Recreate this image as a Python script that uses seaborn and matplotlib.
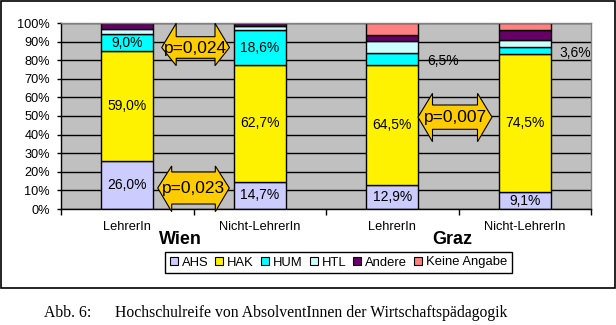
import matplotlib
matplotlib.use("Agg")
import matplotlib.pyplot as plt
import matplotlib.transforms as mtransforms
from matplotlib.patches import Polygon, Rectangle
import numpy as np
import pandas as pd
import seaborn as sns

# ---------------- data ----------------
groups = ["Wien", "Wien", "Graz", "Graz"]
categories = ["Wien LehrerIn", "Wien Nicht-LehrerIn", "Graz LehrerIn", "Graz Nicht-LehrerIn"]
cat_labels = ["LehrerIn", "Nicht-LehrerIn", "LehrerIn", "Nicht-LehrerIn"]
schools = ["AHS", "HAK", "HUM", "HTL", "Andere", "Keine Angabe"]
ahs = [26.0, 14.7, 12.9, 9.1]
hak = [59.0, 62.7, 64.5, 74.5]
hum = [9.0, 18.6, 6.5, 3.6]
htl = [2.7, 2.6, 6.5, 3.6]
andere = [3.3, 1.4, 3.1, 5.5]
keine = [0.0, 0.0, 6.5, 3.7]
labelled = ["AHS", "HAK", "HUM"]
outside_label = {(2, "HUM"), (3, "HUM")}
p_values = ["p=0,024", "p=0,023", "p=0,007"]
yticks = [0, 10, 20, 30, 40, 50, 60, 70, 80, 90, 100]

colors = {"AHS": "#CCCCFF", "HAK": "#FFF200", "HUM": "#00FFFF",
          "HTL": "#CCFFFF", "Andere": "#660066", "Keine Angabe": "#FF8080"}

values = {"AHS": ahs, "HAK": hak, "HUM": hum, "HTL": htl,
          "Andere": andere, "Keine Angabe": keine}

W, H = 616, 325
plt.rcParams["font.family"] = ["Liberation Sans", "DejaVu Sans"]
fig = plt.figure(figsize=(W / 100, H / 100), dpi=100)
fig.patch.set_facecolor("white")
ax = fig.add_axes([61 / W, 1 - 209 / H, (591 - 61) / W, (209 - 23) / H])
ax.set_facecolor("#C0C0C0")

bottom = np.zeros(len(categories))
for s in schools:
    df = pd.DataFrame({"cat": categories, "val": values[s]})
    sns.barplot(data=df, x="cat", y="val", order=categories, color=colors[s],
                saturation=1, width=0.39, bottom=bottom, edgecolor="black",
                linewidth=1.0, errorbar=None, ax=ax, zorder=2)
    if s in labelled:
        for i, v in enumerate(values[s]):
            txt = f"{v:.1f}%".replace(".", ",")
            yc = bottom[i] + v / 2
            if (i, s) in outside_label:
                ax.text(i + 0.38, yc - 1.3, txt, ha="center", va="center",
                        fontsize=10, zorder=5)
            else:
                ax.text(i, yc, txt, ha="center", va="center", fontsize=10, zorder=5)
    bottom = bottom + np.array(values[s])

ax.set_xlim(-0.5, 3.5)
ax.set_ylim(0, 100)
ax.set_yticks(yticks)
ax.set_yticklabels([f"{t}%" for t in yticks], fontsize=9.2)
ax.yaxis.grid(True, color="black", linewidth=1.0)
ax.set_axisbelow(True)
ax.set_xticks([-0.5, 0.5, 1.5, 2.5, 3.5])
ax.set_xticklabels([])
ax.set_xticks([0, 1, 2, 3], minor=True)
ax.set_xticklabels(cat_labels, minor=True, fontsize=9.3)
ax.tick_params(axis="x", which="minor", length=0, pad=9)
ax.tick_params(axis="x", which="major", length=4.5, width=1, color="black", direction="out")
ax.tick_params(axis="y", length=3, width=1, pad=5, color="black", direction="out")
ax.set_xlabel("")
ax.set_ylabel("")
for side in ["left", "bottom"]:
    ax.spines[side].set_color("black")
    ax.spines[side].set_linewidth(1.0)
for side in ["top", "right"]:
    ax.spines[side].set_color("#808080")
    ax.spines[side].set_linewidth(1.0)

# pixel (top-left origin) -> figure transform
pix = mtransforms.Affine2D().scale(1 / W, -1 / H).translate(0, 1) + fig.transFigure


def darrow(x0, x1, hb0, hb1, by0, by1, head, label):
    pts = [(x0, (by0 + by1) / 2), (x0 + head, hb0), (x0 + head, by0),
           (x1 - head, by0), (x1 - head, hb0), (x1, (by0 + by1) / 2),
           (x1 - head, hb1), (x1 - head, by1), (x0 + head, by1),
           (x0 + head, hb1)]
    fig.add_artist(Polygon(pts, closed=True, facecolor="#FFCC00", edgecolor="black",
                           linewidth=0.8, transform=pix, zorder=6))
    fig.text((x0 + x1) / 2, (by0 + by1) / 2 + 0.5, label, transform=pix,
             ha="center", va="center", fontsize=12.5, zorder=7)


darrow(161.7, 229.5, 23.3, 65.7, 36.7, 58.3, 14.5, p_values[0])
darrow(157.7, 229.3, 166.0, 211.7, 172.0, 204.0, 14.0, p_values[1])
darrow(418.0, 492.0, 93.3, 141.7, 105.0, 129.3, 14.5, p_values[2])

# group labels
fig.text(180, 240, "Wien", transform=pix, ha="center", va="center",
         fontsize=13, fontweight="bold")
fig.text(452, 240, "Graz", transform=pix, ha="center", va="center",
         fontsize=13, fontweight="bold")

# legend
handles = [Rectangle((0, 0), 1, 1, facecolor=colors[s], edgecolor="black", linewidth=0.8)
           for s in schools]
leg = fig.legend(handles, schools, loc="center", bbox_to_anchor=(338.5 / W, 1 - 262.5 / H),
                 ncol=6, fontsize=9.4, frameon=True, fancybox=False, framealpha=1,
                 edgecolor="black", handlelength=0.6, handleheight=0.6,
                 handletextpad=0.3, columnspacing=0.55, borderpad=0.35,
                 borderaxespad=0)
leg.get_frame().set_linewidth(1.0)

# figure border
fig.add_artist(Rectangle((0.8, 0.8), 614.2, 287.2, transform=pix, fill=False,
                         edgecolor="black", linewidth=1.2, zorder=10))

# caption
fig.text(44, 313, "Abb. 6:", transform=pix, ha="left", va="center",
         fontsize=11.3, family="Liberation Serif")
fig.text(115, 313, "Hochschulreife von AbsolventInnen der Wirtschaftspädagogik",
         transform=pix, ha="left", va="center", fontsize=11.3, family="Liberation Serif")

fig.savefig("out.png", dpi=100)
